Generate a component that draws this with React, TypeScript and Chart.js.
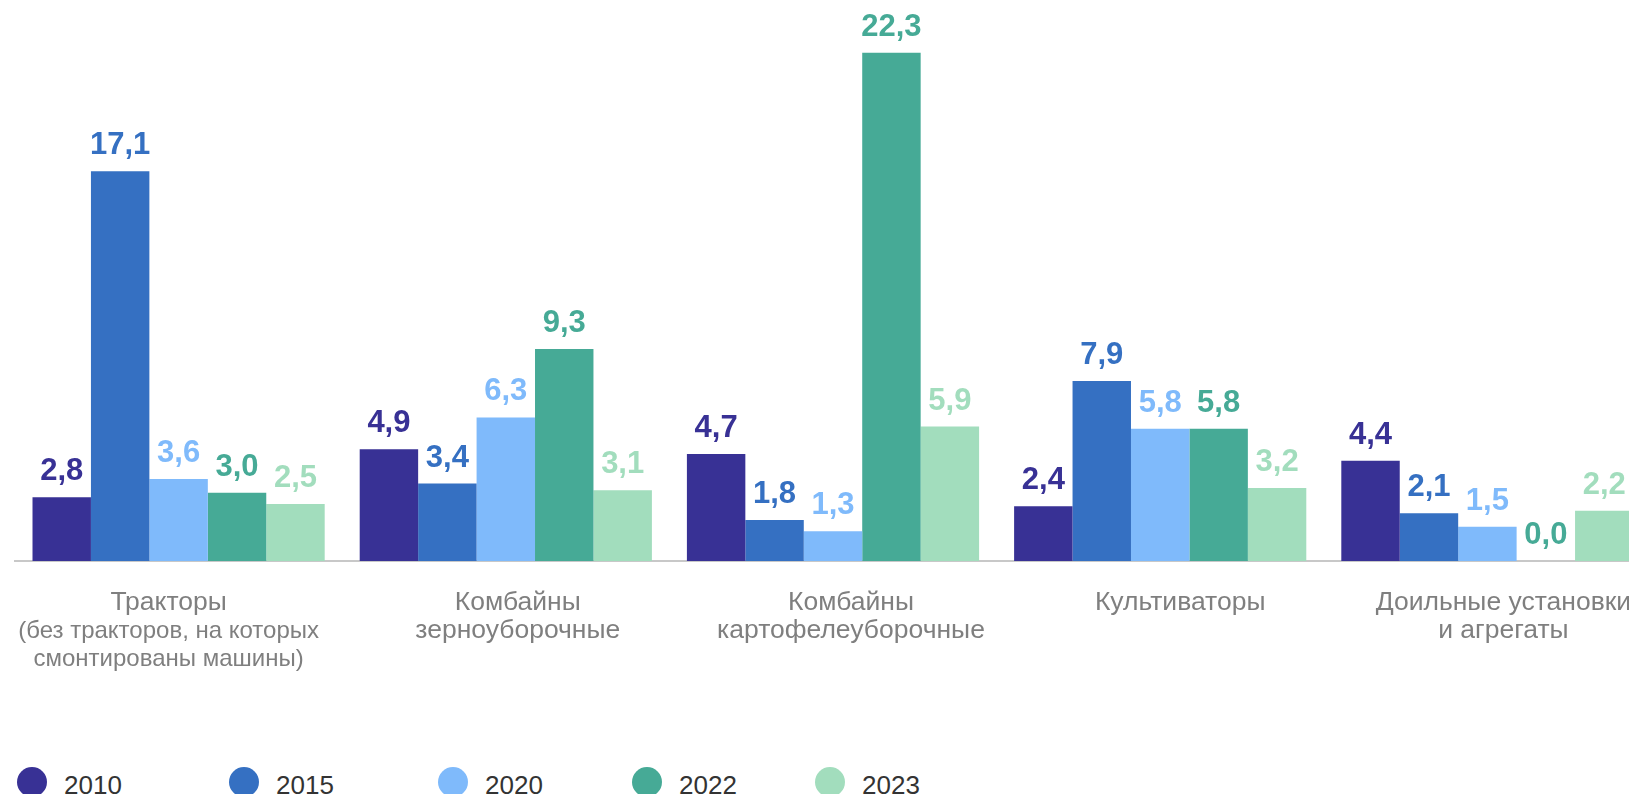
import React, { useEffect, useRef } from "react";
import { Chart, registerables } from "chart.js";

Chart.register(...registerables);

const categories: string[][] = [
  ["Тракторы", "(без тракторов, на которых", "смонтированы машины)"],
  ["Комбайны", "зерноуборочные"],
  ["Комбайны", "картофелеуборочные"],
  ["Культиваторы"],
  ["Доильные установки", "и агрегаты"],
];

const years = ["2010", "2015", "2020", "2022", "2023"];

const values2010 = [2.8, 4.9, 4.7, 2.4, 4.4];
const values2015 = [17.1, 3.4, 1.8, 7.9, 2.1];
const values2020 = [3.6, 6.3, 1.3, 5.8, 1.5];
const values2022 = [3.0, 9.3, 22.3, 5.8, 0.0];
const values2023 = [2.5, 3.1, 5.9, 3.2, 2.2];

const seriesValues = [values2010, values2015, values2020, values2022, values2023];

const colors = ["#383195", "#3570C2", "#7FBAFB", "#46AA96", "#A2DDBD"];

// styling / layout helpers (not data)
const labelShift = [-10, 12, 18, 20, 16];
const legendLeft = [17, 229, 438, 632, 815];

const valueLabelPlugin = {
  id: "valueLabels",
  afterDatasetsDraw(chart: any) {
    const ctx = chart.ctx;
    ctx.save();
    ctx.font = "bold 31px 'Liberation Sans', Arial, sans-serif";
    ctx.textAlign = "center";
    ctx.textBaseline = "alphabetic";
    chart.data.datasets.forEach((ds: any, di: number) => {
      const meta = chart.getDatasetMeta(di);
      meta.data.forEach((el: any, i: number) => {
        const v = ds.data[i] as number;
        ctx.fillStyle = colors[di];
        ctx.fillText(v.toFixed(1).replace(".", ","), el.x, el.y - 17);
      });
    });
    ctx.restore();
  },
};

const categoryLabelPlugin = {
  id: "categoryLabels",
  afterDraw(chart: any) {
    const ctx = chart.ctx;
    const xs = chart.scales.x;
    const base = chart.chartArea.bottom + 49;
    ctx.save();
    ctx.fillStyle = "#7F7F7F";
    ctx.textAlign = "center";
    ctx.textBaseline = "alphabetic";
    categories.forEach((lines, i) => {
      const x = xs.getPixelForValue(i) + labelShift[i];
      lines.forEach((line, j) => {
        const small = i === 0 && j > 0;
        ctx.font = (small ? "24px" : "26.5px") + " 'Liberation Sans', Arial, sans-serif";
        ctx.fillText(line, x, base + j * 28);
      });
    });
    ctx.restore();
  },
};

export default function App() {
  const ref = useRef<HTMLCanvasElement | null>(null);

  useEffect(() => {
    if (!ref.current) return;
    const chart = new Chart(ref.current, {
      type: "bar",
      data: {
        labels: categories.map((c) => c.join(" ")),
        datasets: years.map((y, i) => ({
          label: y,
          data: seriesValues[i],
          backgroundColor: colors[i],
          borderWidth: 0,
          categoryPercentage: 0.893,
          barPercentage: 1,
        })),
      },
      options: {
        animation: false,
        responsive: false,
        devicePixelRatio: 1,
        layout: { padding: { left: 15, top: 14, right: 9, bottom: 0 } },
        plugins: {
          legend: { display: false },
          tooltip: { enabled: false },
        },
        scales: {
          x: {
            grid: { display: false, drawTicks: false },
            border: { display: true, color: "#C8C8C8", width: 2 },
            ticks: { display: false },
            afterFit: (s: any) => {
              s.height = 139;
            },
          },
          y: { display: false, min: 0, max: 24 },
        },
      },
      plugins: [valueLabelPlugin, categoryLabelPlugin],
    } as any);
    return () => chart.destroy();
  }, []);

  return (
    <div
      style={{
        position: "fixed",
        left: 0,
        top: 0,
        width: 1629,
        height: 794,
        overflow: "hidden",
        background: "#ffffff",
      }}
    >
      <canvas
        ref={ref}
        width={1660}
        height={700}
        style={{ display: "block", width: 1660, height: 700 }}
      />
      {years.map((y, i) => (
        <div
          key={y}
          style={{
            position: "absolute",
            left: legendLeft[i],
            top: 767,
            height: 30,
            display: "flex",
            alignItems: "center",
            fontFamily: "'Liberation Sans', Arial, sans-serif",
            fontSize: 26,
            color: "#333333",
            whiteSpace: "nowrap",
          }}
        >
          <span
            style={{
              display: "inline-block",
              width: 30,
              height: 30,
              borderRadius: "50%",
              background: colors[i],
              marginRight: 17,
            }}
          />
          <span style={{ lineHeight: "30px", position: "relative", top: 3 }}>{y}</span>
        </div>
      ))}
    </div>
  );
}
